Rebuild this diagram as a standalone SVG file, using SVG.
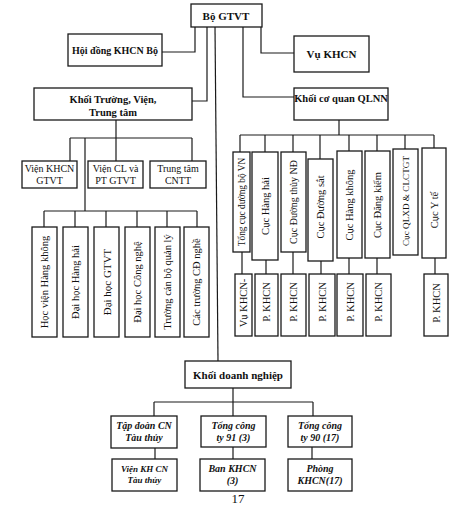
<svg xmlns="http://www.w3.org/2000/svg" width="470" height="506" viewBox="0 0 470 506">
<style>
  .box { fill: #ffffff; stroke: #1a1a1a; stroke-width: 1.3; }
  .ln { fill: none; stroke: #1a1a1a; stroke-width: 1.2; }
  text { font-family: "Liberation Serif", "Times New Roman", serif; fill: #111; }
  .b { font-weight: bold; font-size: 10.5px; }
  .r { font-size: 10px; }
  .v { font-size: 10.5px; }
  .bi { font-weight: bold; font-style: italic; font-size: 10px; }
  .bi2 { font-weight: bold; font-style: italic; font-size: 9px; }
</style>
<rect width="470" height="506" fill="#ffffff"/>

<g id="connectors">
  <polyline class="ln" points="162,52 195,52 195,27"/>
  <polyline class="ln" points="261,27 261,53 294,53"/>
  <polyline class="ln" points="192,101 207,101 207,27"/>
  <polyline class="ln" points="243,27 243,97 294,97"/>
  <line class="ln" x1="215" y1="27" x2="218" y2="361"/>
  <line class="ln" x1="116" y1="120" x2="116" y2="138"/>
  <line class="ln" x1="70" y1="138" x2="192" y2="138"/>
  <line class="ln" x1="70" y1="138" x2="70" y2="161"/>
  <line class="ln" x1="116" y1="138" x2="116" y2="161"/>
  <line class="ln" x1="192" y1="138" x2="192" y2="161"/>
  <line class="ln" x1="85" y1="138" x2="85" y2="211"/>
  <line class="ln" x1="44" y1="211" x2="197" y2="211"/>
  <line class="ln" x1="44" y1="211" x2="44" y2="227"/>
  <line class="ln" x1="75" y1="211" x2="75" y2="227"/>
  <line class="ln" x1="106" y1="211" x2="106" y2="227"/>
  <line class="ln" x1="137" y1="211" x2="137" y2="227"/>
  <line class="ln" x1="167" y1="211" x2="167" y2="227"/>
  <line class="ln" x1="197" y1="211" x2="197" y2="227"/>
  <line class="ln" x1="339" y1="120" x2="339" y2="135"/>
  <line class="ln" x1="240" y1="135" x2="434" y2="135"/>
  <line class="ln" x1="240" y1="135" x2="240" y2="152"/>
  <line class="ln" x1="265" y1="135" x2="265" y2="152"/>
  <line class="ln" x1="293" y1="135" x2="293" y2="152"/>
  <line class="ln" x1="320" y1="135" x2="320" y2="159"/>
  <line class="ln" x1="349" y1="135" x2="349" y2="151"/>
  <line class="ln" x1="377" y1="135" x2="377" y2="151"/>
  <line class="ln" x1="405" y1="135" x2="405" y2="149"/>
  <line class="ln" x1="434" y1="135" x2="434" y2="148"/>
  <line class="ln" x1="242" y1="252" x2="242" y2="274"/>
  <line class="ln" x1="266" y1="260" x2="266" y2="274"/>
  <line class="ln" x1="293" y1="252" x2="293" y2="274"/>
  <line class="ln" x1="321" y1="261" x2="321" y2="274"/>
  <line class="ln" x1="349" y1="258" x2="349" y2="274"/>
  <line class="ln" x1="377" y1="258" x2="377" y2="274"/>
  <line class="ln" x1="435" y1="258" x2="435" y2="274"/>
  <line class="ln" x1="233" y1="388" x2="233" y2="402"/>
  <line class="ln" x1="154" y1="402" x2="313" y2="402"/>
  <line class="ln" x1="154" y1="402" x2="154" y2="416"/>
  <line class="ln" x1="233" y1="402" x2="233" y2="416"/>
  <line class="ln" x1="313" y1="402" x2="313" y2="416"/>
  <line class="ln" x1="155" y1="448" x2="155" y2="459"/>
  <line class="ln" x1="233" y1="447" x2="233" y2="459"/>
  <line class="ln" x1="312" y1="447" x2="312" y2="459"/>
</g>

<g id="bo-gtvt">
  <rect class="box" x="191" y="4" width="71" height="23"/>
  <text class="b" x="226" y="19.5" text-anchor="middle" style="font-size:11px">Bộ GTVT</text>
</g>
<g id="hoi-dong">
  <rect class="box" x="68" y="34" width="94" height="32"/>
  <text class="b" x="115" y="54" text-anchor="middle" style="font-size:10px">Hội đồng KHCN Bộ</text>
</g>
<g id="vu-khcn">
  <rect class="box" x="294" y="36" width="75" height="36"/>
  <text class="b" x="331.5" y="57.5" text-anchor="middle" style="font-size:11px">Vụ KHCN</text>
</g>
<g id="khoi-truong">
  <rect class="box" x="34" y="88" width="158" height="32"/>
  <text class="b" x="113" y="103" text-anchor="middle">Khối Trường, Viện,</text>
  <text class="b" x="113" y="116" text-anchor="middle">Trung tâm</text>
</g>
<g id="khoi-qlnn">
  <rect class="box" x="294" y="88" width="94" height="32"/>
  <text class="b" x="341" y="102" text-anchor="middle">Khối cơ quan QLNN</text>
</g>

<g id="vien-khcn">
  <rect class="box" x="22" y="161" width="55" height="27"/>
  <text class="r" x="49.5" y="172" text-anchor="middle">Viện KHCN</text>
  <text class="r" x="49.5" y="184" text-anchor="middle">GTVT</text>
</g>
<g id="vien-cl">
  <rect class="box" x="88" y="161" width="55" height="27"/>
  <text class="r" x="115.5" y="172" text-anchor="middle">Viện CL và</text>
  <text class="r" x="115.5" y="184" text-anchor="middle">PT GTVT</text>
</g>
<g id="trung-tam">
  <rect class="box" x="150" y="161" width="56" height="27"/>
  <text class="r" x="178" y="172" text-anchor="middle">Trung tâm</text>
  <text class="r" x="178" y="184" text-anchor="middle">CNTT</text>
</g>

<g id="hv-hang-khong">
  <rect class="box" x="32" y="227" width="25" height="110"/>
  <text class="v" transform="translate(44.5,282) rotate(-90)" text-anchor="middle" dominant-baseline="central">Học viện Hàng không</text>
</g>
<g id="dh-hang-hai">
  <rect class="box" x="63" y="227" width="25" height="110"/>
  <text class="v" transform="translate(75.5,282) rotate(-90)" text-anchor="middle" dominant-baseline="central">Đại học Hàng hải</text>
</g>
<g id="dh-gtvt">
  <rect class="box" x="94" y="227" width="25" height="110"/>
  <text class="v" transform="translate(106.5,282) rotate(-90)" text-anchor="middle" dominant-baseline="central" style="font-size:11px">Đại học GTVT</text>
</g>
<g id="dh-cong-nghe">
  <rect class="box" x="125" y="227" width="25" height="110"/>
  <text class="v" transform="translate(137.5,282) rotate(-90)" text-anchor="middle" dominant-baseline="central">Đại học Công nghệ</text>
</g>
<g id="truong-can-bo">
  <rect class="box" x="155" y="227" width="25" height="110"/>
  <text class="v" transform="translate(167.5,282) rotate(-90)" text-anchor="middle" dominant-baseline="central">Trường cán bộ quản lý</text>
</g>
<g id="cd-nghe">
  <rect class="box" x="184" y="227" width="25" height="110"/>
  <text class="v" transform="translate(196.5,282) rotate(-90)" text-anchor="middle" dominant-baseline="central">Các trường CĐ nghề</text>
</g>

<g id="tong-cuc-db">
  <rect class="box" x="233" y="152" width="17" height="100"/>
  <text class="v" transform="translate(241.5,202) rotate(-90)" text-anchor="middle" dominant-baseline="central" style="font-size:9.3px">Tổng cục đường bộ VN</text>
</g>
<g id="cuc-hang-hai">
  <rect class="box" x="252" y="152" width="26" height="108"/>
  <text class="v" transform="translate(265,206) rotate(-90)" text-anchor="middle" dominant-baseline="central">Cục Hàng hải</text>
</g>
<g id="cuc-duong-thuy">
  <rect class="box" x="281" y="152" width="25" height="100"/>
  <text class="v" transform="translate(293.5,202) rotate(-90)" text-anchor="middle" dominant-baseline="central" style="font-size:10px">Cục Đường thủy NĐ</text>
</g>
<g id="cuc-duong-sat">
  <rect class="box" x="308" y="159" width="25" height="102"/>
  <text class="v" transform="translate(320.5,207) rotate(-90)" text-anchor="middle" dominant-baseline="central">Cục Đường sắt</text>
</g>
<g id="cuc-hang-khong">
  <rect class="box" x="337" y="151" width="25" height="107"/>
  <text class="v" transform="translate(349.5,205) rotate(-90)" text-anchor="middle" dominant-baseline="central">Cục Hàng không</text>
</g>
<g id="cuc-dang-kiem">
  <rect class="box" x="365" y="151" width="25" height="107"/>
  <text class="v" transform="translate(377.5,205) rotate(-90)" text-anchor="middle" dominant-baseline="central">Cục Đăng kiểm</text>
</g>
<g id="cuc-qlxd">
  <rect class="box" x="393" y="149" width="25" height="106"/>
  <text class="v" transform="translate(405.5,201) rotate(-90)" text-anchor="middle" dominant-baseline="central" style="font-size:9.2px">Cục QLXD &amp; CLCTGT</text>
</g>
<g id="cuc-y-te">
  <rect class="box" x="422" y="148" width="24" height="110"/>
  <text class="v" transform="translate(434,210) rotate(-90)" text-anchor="middle" dominant-baseline="central">Cục Y tế</text>
</g>

<g id="vu-khcn-db">
  <rect class="box" x="235" y="274" width="17" height="62"/>
  <text class="v" transform="translate(243.5,303) rotate(-90)" text-anchor="middle" dominant-baseline="central">Vụ KHCN-</text>
</g>
<g id="p-khcn-1">
  <rect class="box" x="255" y="274" width="23" height="62"/>
  <text class="v" transform="translate(266.5,302) rotate(-90)" text-anchor="middle" dominant-baseline="central">P. KHCN</text>
</g>
<g id="p-khcn-2">
  <rect class="box" x="281" y="274" width="25" height="62"/>
  <text class="v" transform="translate(293.5,302) rotate(-90)" text-anchor="middle" dominant-baseline="central">P. KHCN</text>
</g>
<g id="p-khcn-3">
  <rect class="box" x="309" y="274" width="26" height="62"/>
  <text class="v" transform="translate(322,302) rotate(-90)" text-anchor="middle" dominant-baseline="central">P. KHCN</text>
</g>
<g id="p-khcn-4">
  <rect class="box" x="337" y="274" width="26" height="62"/>
  <text class="v" transform="translate(350,302) rotate(-90)" text-anchor="middle" dominant-baseline="central">P. KHCN</text>
</g>
<g id="p-khcn-5">
  <rect class="box" x="366" y="274" width="25" height="62"/>
  <text class="v" transform="translate(378.5,302) rotate(-90)" text-anchor="middle" dominant-baseline="central">P. KHCN</text>
</g>
<g id="p-khcn-6">
  <rect class="box" x="424" y="274" width="24" height="62"/>
  <text class="v" transform="translate(436,303) rotate(-90)" text-anchor="middle" dominant-baseline="central">P. KHCN</text>
</g>

<g id="khoi-dn">
  <rect class="box" x="185" y="361" width="106" height="27"/>
  <text class="b" x="238" y="378.5" text-anchor="middle" style="font-size:11px">Khối doanh nghiệp</text>
</g>
<g id="tap-doan">
  <rect class="box" x="111" y="416" width="66" height="32"/>
  <text class="bi" x="144" y="429" text-anchor="middle">Tập đoàn CN</text>
  <text class="bi" x="144" y="441" text-anchor="middle">Tàu thủy</text>
</g>
<g id="tct-91">
  <rect class="box" x="201" y="416" width="65" height="31"/>
  <text class="bi" x="233.5" y="429" text-anchor="middle">Tổng công</text>
  <text class="bi" x="233.5" y="441" text-anchor="middle">ty 91 (3)</text>
</g>
<g id="tct-90">
  <rect class="box" x="288" y="416" width="64" height="31"/>
  <text class="bi" x="320" y="429" text-anchor="middle">Tổng công</text>
  <text class="bi" x="320" y="441" text-anchor="middle">ty 90 (17)</text>
</g>
<g id="vien-kh-tau">
  <rect class="box" x="112" y="459" width="65" height="32"/>
  <text class="bi2" x="144.5" y="472" text-anchor="middle">Viện KH CN</text>
  <text class="bi2" x="144.5" y="483" text-anchor="middle">Tàu thủy</text>
</g>
<g id="ban-khcn">
  <rect class="box" x="200" y="459" width="65" height="32"/>
  <text class="bi" x="232.5" y="472" text-anchor="middle">Ban KHCN</text>
  <text class="bi" x="232.5" y="484" text-anchor="middle">(3)</text>
</g>
<g id="phong-khcn">
  <rect class="box" x="288" y="459" width="64" height="32"/>
  <text class="bi" x="320" y="472" text-anchor="middle">Phòng</text>
  <text class="bi" x="320" y="484" text-anchor="middle">KHCN(17)</text>
</g>

<text x="238" y="503" text-anchor="middle" font-size="13">17</text>
</svg>
